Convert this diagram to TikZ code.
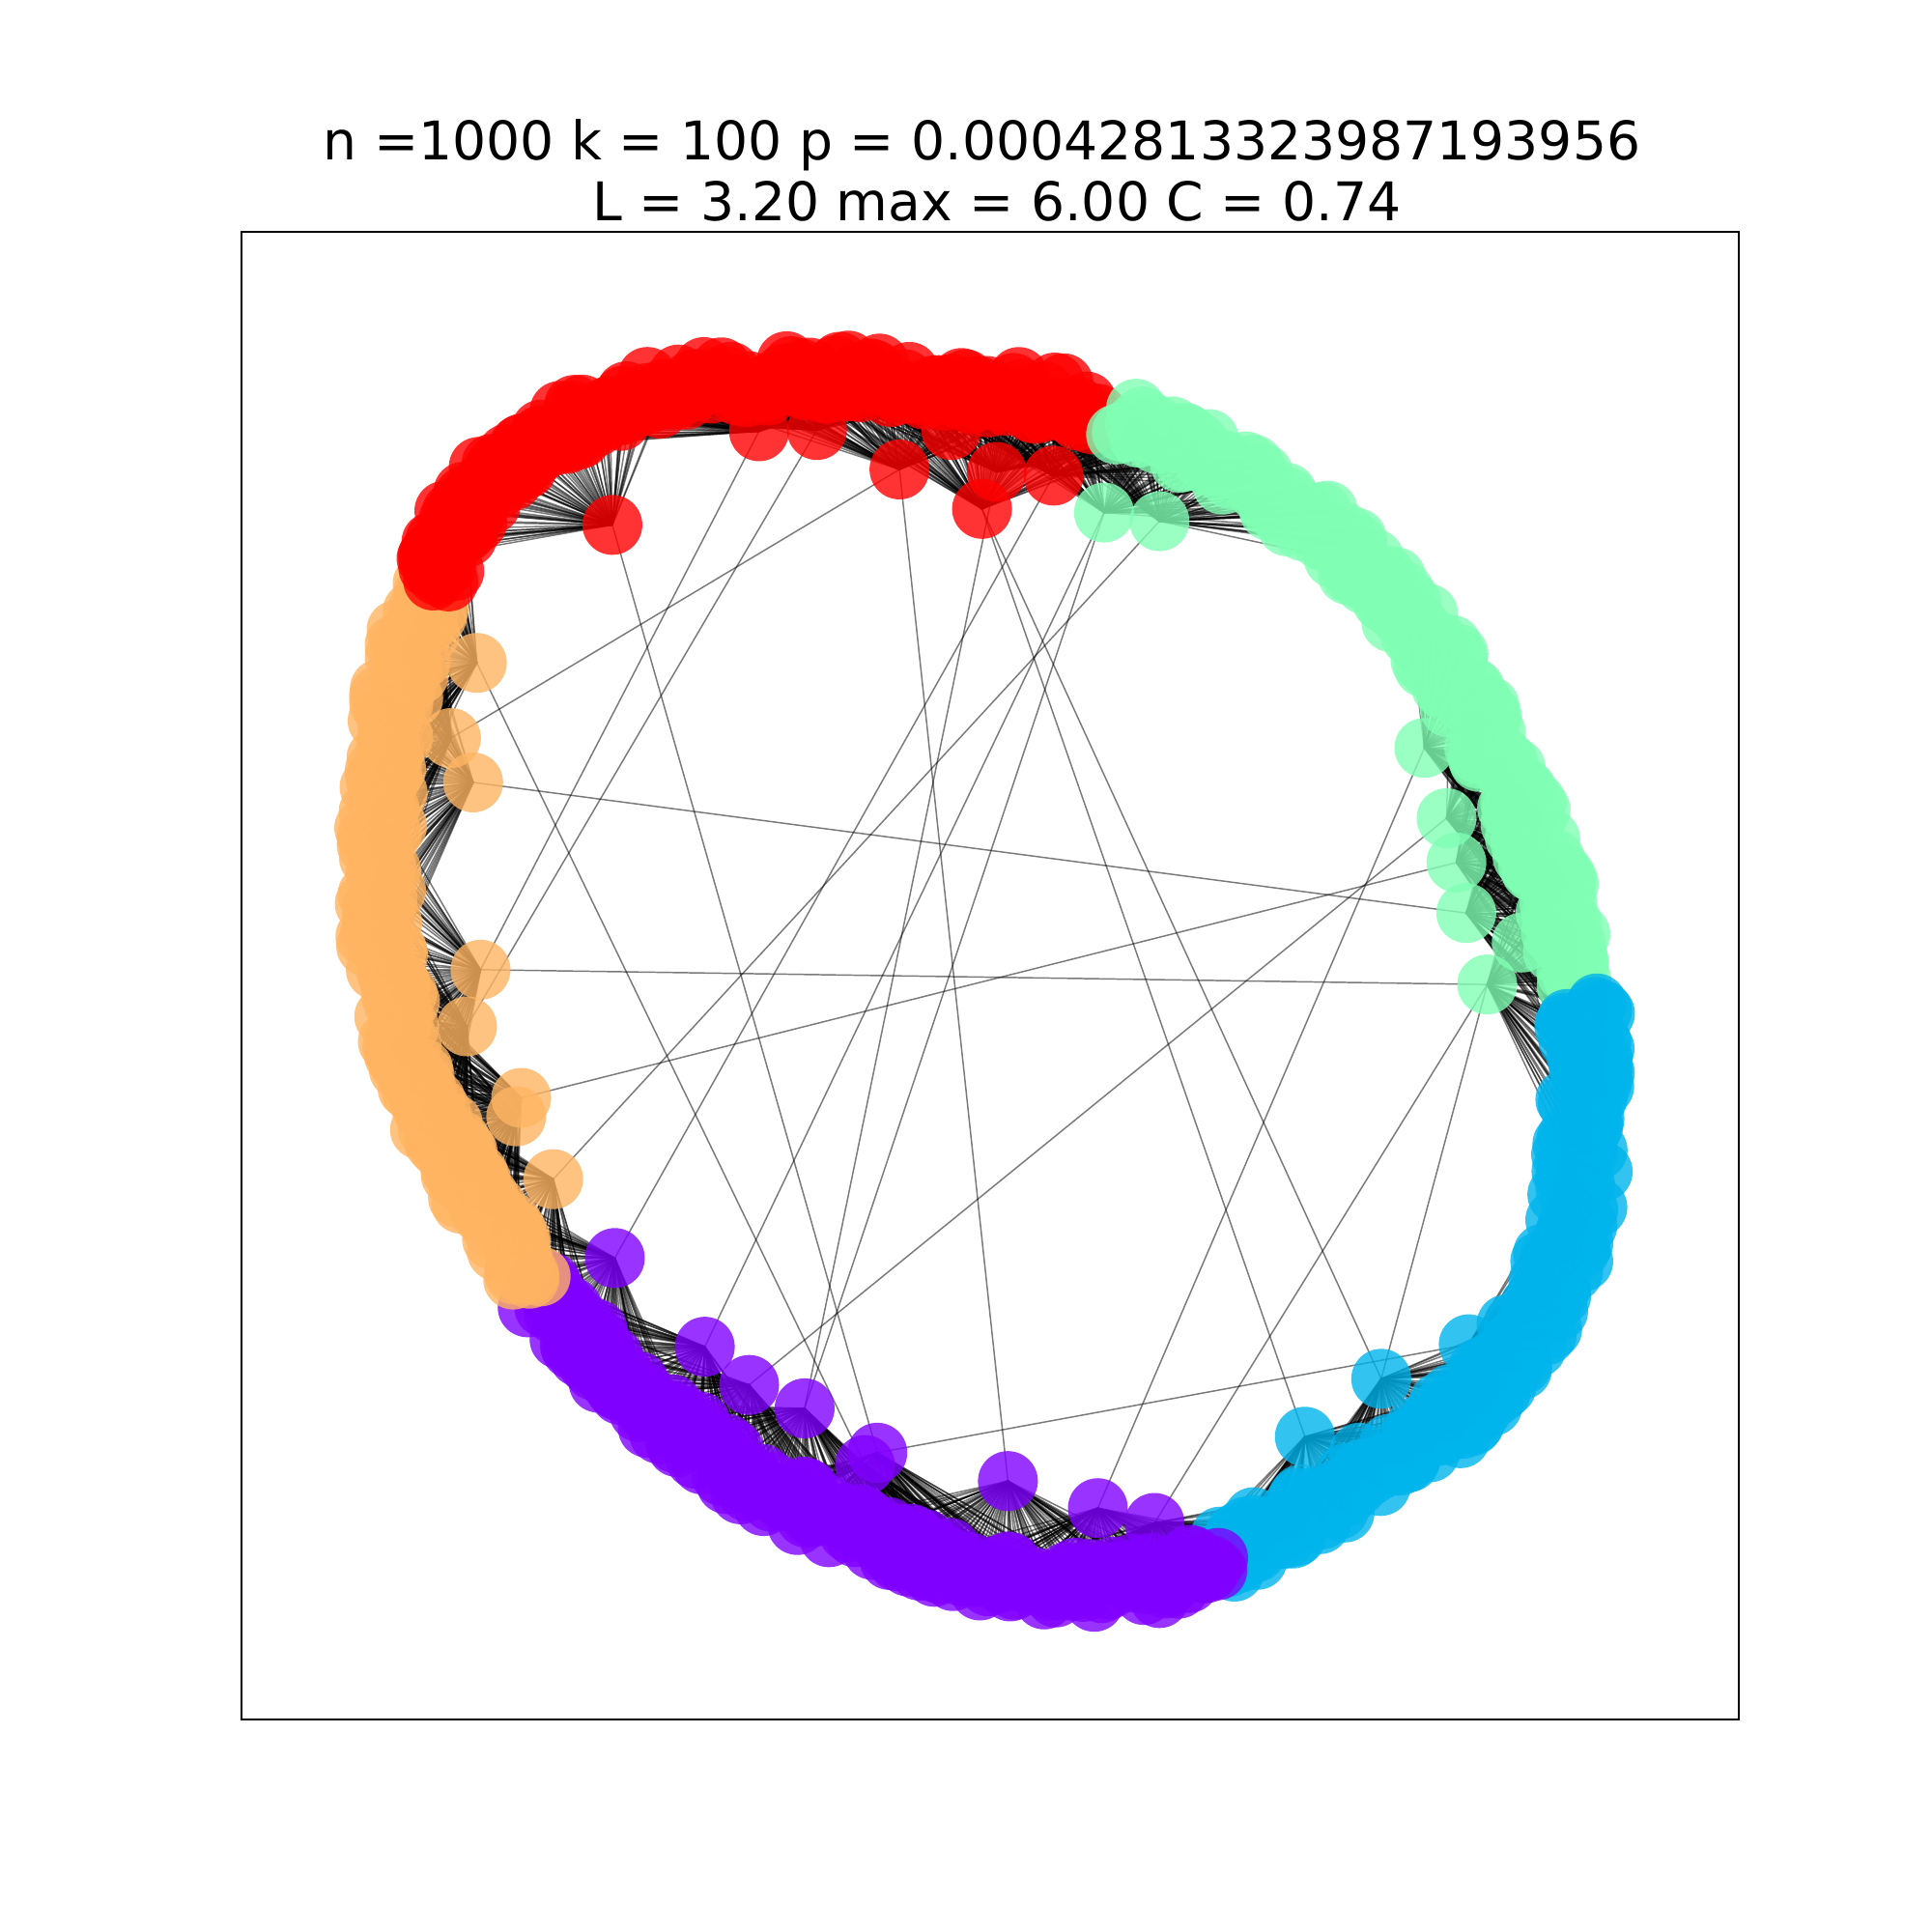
\documentclass[tikz,border=0pt]{standalone}
\usepackage{fontspec}
\setmainfont{DejaVu Sans}
\usetikzlibrary{calc}
\definecolor{cRed}{RGB}{255,0,0}
\definecolor{cMint}{RGB}{128,255,180}
\definecolor{cCyan}{RGB}{0,180,236}
\definecolor{cPurple}{RGB}{128,0,255}
\definecolor{cOrange}{RGB}{255,180,98}
\begin{document}
\begin{tikzpicture}[x=0.0127551cm, y=-0.0127551cm,
  edge/.style={black, opacity=.52, line width=.42pt},
  vert/.style={fill=#1, fill opacity=.8}]
  \useasboundingbox (0,0) rectangle (1568,1568);
  \pgfmathsetseed{42}

  % title
  \node[anchor=base, font=\fontsize{15.7}{19}\selectfont] (title1) at (797,130) {n =1000 k = 100 p = 0.00042813323987193956};
  \node[anchor=base, font=\fontsize{15.7}{19}\selectfont] (title2) at (809,179) {L = 3.20 max = 6.00 C = 0.74};

  % axes frame
  \draw[line width=.63pt] (196,188.2) rectangle (1411.2,1395.5);

  % ring outline, one polyline per community
  \foreach [count=\k from 0] \x/\y in {355/472, 363/440, 380/410, 402/385, 430/363, 462/345, 500/328, 545/316, 595/310, 645/306, 695/306, 745/309, 795/315, 845/322, 895/333}
    \coordinate (R\k) at (\x,\y);
  \foreach [count=\k from 0] \x/\y in {910/342, 955/360, 995/379, 1035/402, 1070/427, 1105/457, 1135/489, 1160/522, 1182/556, 1202/591, 1220/626, 1237/661, 1250/696, 1262/731, 1272/766, 1280/801}
    \coordinate (M\k) at (\x,\y);
  \foreach [count=\k from 0] \x/\y in {1285/815, 1287/850, 1288/885, 1286/920, 1283/955, 1278/990, 1268/1025, 1252/1060, 1230/1095, 1205/1125, 1180/1150, 1150/1172, 1120/1192, 1085/1212, 1050/1230, 1015/1250, 990/1265}
    \coordinate (C\k) at (\x,\y);
  \foreach [count=\k from 0] \x/\y in {990/1270, 950/1280, 910/1285, 870/1285, 830/1281, 790/1274, 750/1263, 710/1249, 670/1232, 630/1212, 590/1188, 552/1161, 517/1132, 486/1102, 458/1072, 432/1042}
    \coordinate (P\k) at (\x,\y);
  \foreach [count=\k from 0] \x/\y in {432/1040, 415/1012, 400/990, 385/968, 370/945, 357/920, 345/893, 335/865, 325/835, 316/800, 310/765, 308/730, 308/695, 310/660, 312/625, 317/590, 322/560, 330/530, 340/500, 352/475}
    \coordinate (O\k) at (\x,\y);

  % ring nodes n1..n1000, 200 per community, jittered across the band
  \foreach \com/\off/\amp/\nseg in {R/0/5.4/14, M/200/5.5/15, C/400/6.3/16, P/600/5.8/15, O/800/5.2/19} {
    \foreach \i in {0,...,199} {
      \pgfmathsetmacro\u{\i*\nseg/200}
      \pgfmathtruncatemacro\sa{floor(\u)}
      \pgfmathtruncatemacro\sb{\sa+1}
      \pgfmathsetmacro\f{\u-\sa}
      \pgfmathsetmacro\jy{\amp*rand}
      \pgfmathtruncatemacro\idx{\off+\i+1}
      \coordinate (off) at ($(\com\sa)!\jy pt!90:(\com\sb)$);
      \coordinate (n\idx) at ($(\com\sa)!\f!(\com\sb) + (off) - (\com\sa)$);
    }
  }

  % nodes pulled inside the ring
  \foreach \nm/\x/\y in {r1/497/426, r2/616/350, r3/663/349, r4/730/381, r5/772/349, r6/809/383, r7/797/413, r8/855/386,
      m1/896/416, m2/941/423, m3/1156/607, m4/1174/664, m5/1182/700, m6/1190/741, m7/1207/799, m8/1235/765,
      c1/1192/1091, c2/1121/1119, c3/1059/1166, c4/1103/1179, c5/1267/937,
      p1/499/1021, p2/572/1093, p3/608/1124, p4/653/1143, p5/712/1179, p6/702/1189, p7/818/1202, p8/891/1224, p9/937/1236,
      o1/387/538, o2/366/599, o3/384/635, o4/390/787, o5/379/833, o6/423/891, o7/419/906, o8/449/957}
    \coordinate (\nm) at (\x,\y);

  % local edges (fans to the ring)
  \foreach \nm/\c in {r1/54, r2/109, r3/125, r4/147, r5/160, r6/172, r7/168, r8/188,
      m1/204, m2/218, m3/334, m4/354, m5/365, m6/378, m7/401, m8/385,
      c1/499, c2/538, c3/564, c4/550, c5/442,
      p1/791, p2/757, p3/739, p4/711, p5/681, p6/689, p7/656, p8/633, p9/616,
      o1/978, o2/959, o3/944, o4/894, o5/878, o6/858, o7/854, o8/821} {
    \foreach \j in {-44,...,44} {
      \pgfmathtruncatemacro\t{mod(\c+\j+999,1000)+1}
      \draw[edge] (\nm) -- (n\t);
    }
  }

  % long range edges
  \foreach \a/\b in {r1/p5, r2/o4, r3/o5, r4/o2, r4/p7, r6/p4, r7/c2, r7/c3, r8/p1, o1/p6,
      m1/p2, m1/p4, m2/o8, m3/p8, m4/p3, m5/o6, m6/o3, m7/o4, m7/c2, m7/p9, c1/p5}
    \draw[edge] (\a) -- (\b);

  % inner nodes
  \foreach \nm/\col in {r1/cRed, r2/cRed, r3/cRed, r4/cRed, r5/cRed, r6/cRed, r7/cRed, r8/cRed,
      m1/cMint, m2/cMint, m3/cMint, m4/cMint, m5/cMint, m6/cMint, m7/cMint, m8/cMint,
      c1/cCyan, c2/cCyan, c3/cCyan, c4/cCyan, c5/cCyan,
      p1/cPurple, p2/cPurple, p3/cPurple, p4/cPurple, p5/cPurple, p6/cPurple, p7/cPurple, p8/cPurple, p9/cPurple,
      o1/cOrange, o2/cOrange, o3/cOrange, o4/cOrange, o5/cOrange, o6/cOrange, o7/cOrange, o8/cOrange}
    \fill[vert=\col] (\nm) circle (24.3);

  % ring nodes
  \foreach \i in {41,...,200} \fill[vert=cRed] (n\i) circle (24.3);
  \foreach \i in {201,...,400} \fill[vert=cMint] (n\i) circle (24.3);
  \foreach \i in {401,...,600} \fill[vert=cCyan] (n\i) circle (24.3);
  \foreach \i in {601,...,800} \fill[vert=cPurple] (n\i) circle (24.3);
  \foreach \i in {801,...,1000} \fill[vert=cOrange] (n\i) circle (24.3);
  \foreach \i in {1,...,40} \fill[vert=cRed] (n\i) circle (24.3);
\end{tikzpicture}
\end{document}
